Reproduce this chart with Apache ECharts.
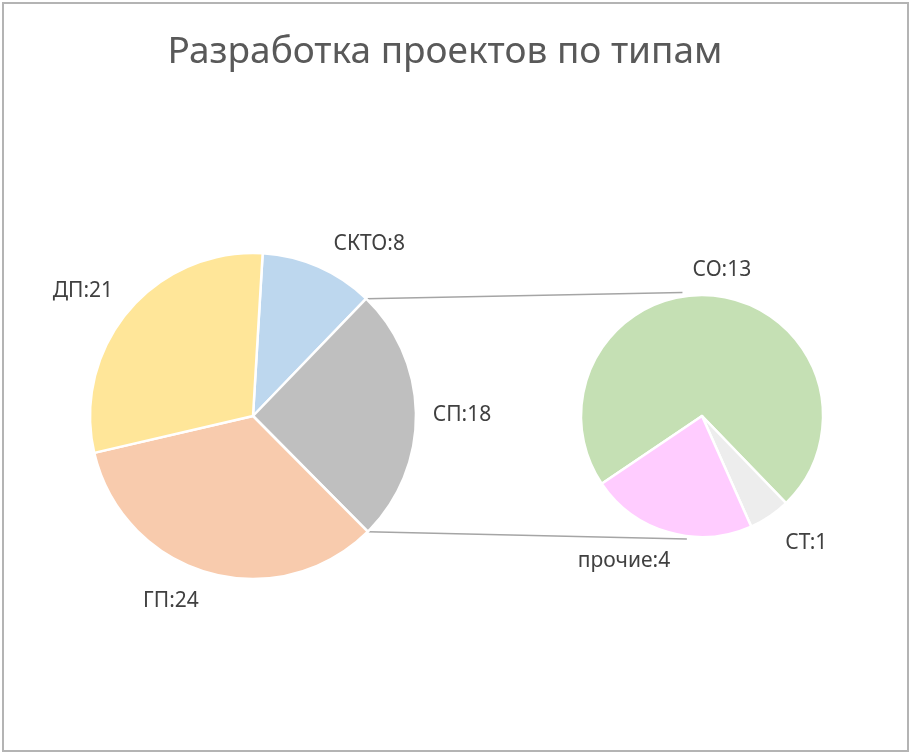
<!DOCTYPE html>
<html><head><meta charset="utf-8">
<script src="https://cdn.jsdelivr.net/npm/echarts@6/dist/echarts.min.js"></script>
<style>html,body{margin:0;padding:0;background:#fff}#c{width:911px;height:755px}</style>
</head><body><div id="c"></div>
<script>
// ---- data ----
const titleText = 'Разработка проектов по типам';
const mainCategories = ['СКТО', 'СП', 'ГП', 'ДП'];
const mainValues = [8, 18, 24, 21];
const subCategories = ['СО', 'СТ', 'прочие'];
const subValues = [13, 1, 4];
const splitIndex = 1; // 'СП' is broken out into the secondary pie

// ---- styles / geometry ----
const mainColors = ['#BDD7EE', '#BFBFBF', '#F8CBAD', '#FFE699'];
const subColors = ['#C5E0B4', '#EDEDED', '#FFCCFF'];
const mainCenter = [253, 416], mainR = 163, mainStart = 86.6;
const subCenter = [702, 416], subR = 121, subStart = 214;
// label placement: angular nudge (deg) relative to slice mid-angle and radial distance
const mainLabelNudge = [[10.3, 208], [0, 209], [7.9, 202], [-3.9, 211]];
const subLabelNudge = [[1.8, 147], [-5.5, 164], [12.2, 165]];
const fontFam = '"Noto Sans", "Open Sans", sans-serif';

function sliceAngles(values, startMath) {
  const total = values.reduce((a, b) => a + b, 0);
  let a = 90 - startMath; // clockwise from top
  return values.map(v => {
    const span = v / total * 360;
    const r = { start: a, end: a + span, mid: a + span / 2 };
    a += span;
    return r;
  });
}
function polar(c, r, degFromTop) {
  const t = degFromTop * Math.PI / 180;
  return [c[0] + r * Math.sin(t), c[1] - r * Math.cos(t)];
}
const mainAng = sliceAngles(mainValues, mainStart);
const subAng = sliceAngles(subValues, subStart);

const chart = echarts.init(document.getElementById('c'));

const pA = polar(mainCenter, mainR, mainAng[splitIndex].start);
const pB = polar(mainCenter, mainR, mainAng[splitIndex].end);
const qA = polar(subCenter, subR + 4, -9);
const qB = polar(subCenter, subR + 3, 187);

function mkLabelLayout(angles, nudge, center) {
  return function (params) {
    const i = params.dataIndex;
    const p = polar(center, nudge[i][1], angles[i].mid + nudge[i][0]);
    return { x: p[0], y: p[1], align: 'center', verticalAlign: 'middle' };
  };
}

const labelStyle = {
  show: true, position: 'outside', formatter: '{b}:{c}',
  color: '#404040', fontSize: 21, fontFamily: fontFam
};

chart.setOption({
  animation: false,
  backgroundColor: '#fff',
  title: {
    text: titleText, left: 440, top: 29, textAlign: 'center',
    textStyle: { fontFamily: fontFam, fontSize: 37, fontWeight: 'normal', color: '#595959' }
  },
  graphic: [
    { type: 'rect', shape: { x: 3, y: 3, width: 905, height: 748 }, style: { fill: 'none', stroke: '#B4B4B4', lineWidth: 2 }, z: 100 },
    { type: 'line', shape: { x1: pA[0], y1: pA[1], x2: qA[0], y2: qA[1] }, style: { stroke: '#A5A5A5', lineWidth: 1.5 } },
    { type: 'line', shape: { x1: pB[0], y1: pB[1], x2: qB[0], y2: qB[1] }, style: { stroke: '#A5A5A5', lineWidth: 1.5 } }
  ],
  series: [
    {
      type: 'pie', center: mainCenter, radius: [0, mainR], startAngle: mainStart, clockwise: true,
      avoidLabelOverlap: false,
      data: mainCategories.map((n, i) => ({ name: n, value: mainValues[i], itemStyle: { color: mainColors[i] } })),
      itemStyle: { borderColor: '#fff', borderWidth: 2.5 },
      label: labelStyle, labelLine: { show: false },
      labelLayout: mkLabelLayout(mainAng, mainLabelNudge, mainCenter),
      emphasis: { disabled: true }
    },
    {
      type: 'pie', center: subCenter, radius: [0, subR], startAngle: subStart, clockwise: true,
      avoidLabelOverlap: false,
      data: subCategories.map((n, i) => ({ name: n, value: subValues[i], itemStyle: { color: subColors[i] } })),
      itemStyle: { borderColor: '#fff', borderWidth: 2.5 },
      label: labelStyle, labelLine: { show: false },
      labelLayout: mkLabelLayout(subAng, subLabelNudge, subCenter),
      emphasis: { disabled: true }
    }
  ]
});
</script></body></html>
